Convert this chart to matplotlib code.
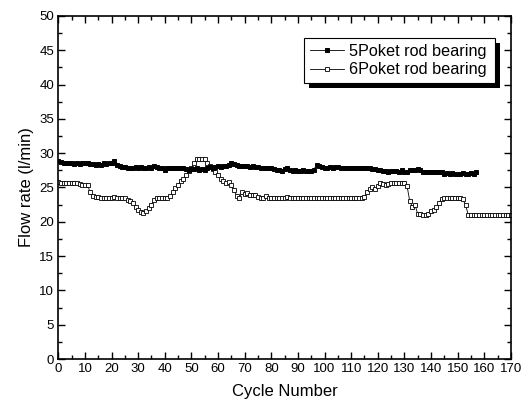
import matplotlib
matplotlib.use("Agg")
import matplotlib.pyplot as plt
from matplotlib.ticker import MultipleLocator
from matplotlib.patches import Rectangle
import numpy as np

plt.rcParams['font.family'] = ['Liberation Sans', 'DejaVu Sans']

# 5Poket rod bearing, cycles 0..157
s5 = [28.8, 28.7, 28.6, 28.6, 28.5, 28.5, 28.4, 28.5, 28.4, 28.5,
      28.6, 28.5, 28.4, 28.4, 28.3, 28.4, 28.3, 28.5, 28.4, 28.5,
      28.6, 28.8, 28.3, 28.2, 28.0, 28.0, 27.9, 27.9, 27.9, 28.0,
      27.9, 28.0, 27.9, 27.9, 28.0, 27.9, 28.1, 28.0, 27.9, 27.8,
      27.5, 27.8, 27.9, 27.8, 27.9, 27.8, 27.8, 27.9, 27.7, 27.6,
      27.7, 27.7, 27.8, 27.6, 27.7, 27.6, 27.8, 28.0, 27.9, 28.0,
      28.1, 28.0, 28.1, 28.2, 28.3, 28.5, 28.4, 28.3, 28.2, 28.1,
      28.2, 28.1, 28.0, 28.1, 28.0, 28.0, 27.9, 27.9, 27.9, 27.8,
      27.8, 27.7, 27.6, 27.5, 27.4, 27.7, 27.8, 27.5, 27.4, 27.5,
      27.4, 27.4, 27.5, 27.4, 27.4, 27.4, 27.6, 28.3, 28.1, 28.0,
      27.9, 27.9, 28.0, 27.9, 28.0, 28.0, 27.9, 27.9, 27.9, 27.8,
      27.8, 27.8, 27.9, 27.8, 27.8, 27.8, 27.9, 27.8, 27.7, 27.7,
      27.6, 27.5, 27.4, 27.4, 27.3, 27.4, 27.4, 27.4, 27.3, 27.5,
      27.3, 27.2, 27.6, 27.5, 27.5, 27.7, 27.6, 27.3, 27.3, 27.3,
      27.3, 27.2, 27.3, 27.2, 27.3, 27.0, 27.1, 27.0, 27.1, 26.9,
      26.9, 27.0, 27.1, 27.0, 27.0, 27.1, 27.0, 27.3]

# 6Poket rod bearing, cycles 0..170
s6 = [25.8, 25.7, 25.7, 25.7, 25.7, 25.7, 25.6, 25.6, 25.5, 25.4,
      25.3, 25.3, 24.3, 23.7, 23.6, 23.6, 23.5, 23.5, 23.5, 23.5,
      23.5, 23.6, 23.5, 23.5, 23.5, 23.4, 23.2, 23.1, 22.7, 22.1,
      21.7, 21.4, 21.3, 21.5, 22.0, 22.5, 23.2, 23.5, 23.5, 23.5,
      23.5, 23.5, 23.8, 24.3, 24.9, 25.4, 25.9, 26.3, 26.8, 27.4,
      27.9, 28.5, 29.2, 29.2, 29.2, 29.2, 28.6, 28.2, 27.7, 27.2,
      26.8, 26.3, 25.9, 25.7, 25.8, 25.3, 24.6, 23.8, 23.5, 24.3,
      24.0, 24.2, 23.9, 23.9, 23.9, 23.6, 23.5, 23.5, 23.7, 23.5,
      23.5, 23.5, 23.5, 23.5, 23.5, 23.5, 23.6, 23.5, 23.5, 23.5,
      23.5, 23.5, 23.5, 23.5, 23.5, 23.5, 23.5, 23.5, 23.5, 23.5,
      23.5, 23.5, 23.5, 23.5, 23.4, 23.5, 23.5, 23.5, 23.5, 23.5,
      23.5, 23.5, 23.5, 23.5, 23.5,
      23.6, 24.3, 24.8, 25.0, 24.8, 25.2, 25.6, 25.5, 25.4, 25.5,
      25.6, 25.6, 25.6, 25.7, 25.7, 25.7,
      25.2, 23.0, 22.2, 22.5, 21.1, 21.1, 21.0, 21.0, 21.2, 21.5,
      21.7, 22.2, 22.8, 23.3, 23.5, 23.5, 23.5, 23.5, 23.5, 23.5,
      23.4, 23.3, 22.4, 21.0,
      21.0, 21.0, 21.0, 21.0, 21.0, 21.0, 21.0, 21.0,
      21.0, 21.0, 21.0, 21.0, 21.0, 21.0, 21.0, 21.0]

x5 = np.arange(len(s5))
x6 = np.arange(len(s6))

fig = plt.figure(figsize=(5.30, 4.08), dpi=100)
ax = fig.add_axes([0.110, 0.120, 0.854, 0.841])

ax.plot(x5, s5, color='black', lw=0.6, marker='s', ms=3.4, mfc='black',
        mec='black', mew=0.7, label='5Poket rod bearing', zorder=3)
ax.plot(x6, s6, color='black', lw=0.6, marker='s', ms=3.4, mfc='white',
        mec='black', mew=0.6, label='6Poket rod bearing', zorder=2)

ax.set_xlim(0, 170)
ax.set_ylim(0, 50)
ax.xaxis.set_major_locator(MultipleLocator(10))
ax.xaxis.set_minor_locator(MultipleLocator(5))
ax.yaxis.set_major_locator(MultipleLocator(5))
ax.yaxis.set_minor_locator(MultipleLocator(2.5))
ax.tick_params(which='both', direction='in', top=True, right=True,
               labelsize=9.5, width=1.0, pad=3)
ax.tick_params(which='major', length=5)
ax.tick_params(which='minor', length=3)
for sp in ax.spines.values():
    sp.set_linewidth(1.2)

ax.set_xlabel('Cycle Number', fontsize=12, labelpad=6)
ax.set_ylabel('Flow rate (l/min)', fontsize=12, labelpad=4)

leg = ax.legend(loc='upper left', bbox_to_anchor=(0.543, 0.799, 0.422, 0.137),
                mode='expand', borderaxespad=0, fancybox=False, frameon=True,
                framealpha=1, edgecolor='black', fontsize=11.7, handlelength=2.1,
                handletextpad=0.3, borderpad=0.38, labelspacing=0.2)
leg.get_frame().set_linewidth(0.8)
leg.set_zorder(6)

fig.canvas.draw()
bb = leg.get_window_extent()
inv = ax.transAxes.inverted()
(x0, y0) = inv.transform((bb.x0 + 5, bb.y0 - 5))
(x1, y1) = inv.transform((bb.x1 + 5, bb.y1 - 5))
ax.add_patch(Rectangle((x0, y0), x1 - x0, y1 - y0, transform=ax.transAxes,
                       facecolor='black', edgecolor='none', zorder=5,
                       clip_on=False))

fig.savefig('out.png', dpi=100)
